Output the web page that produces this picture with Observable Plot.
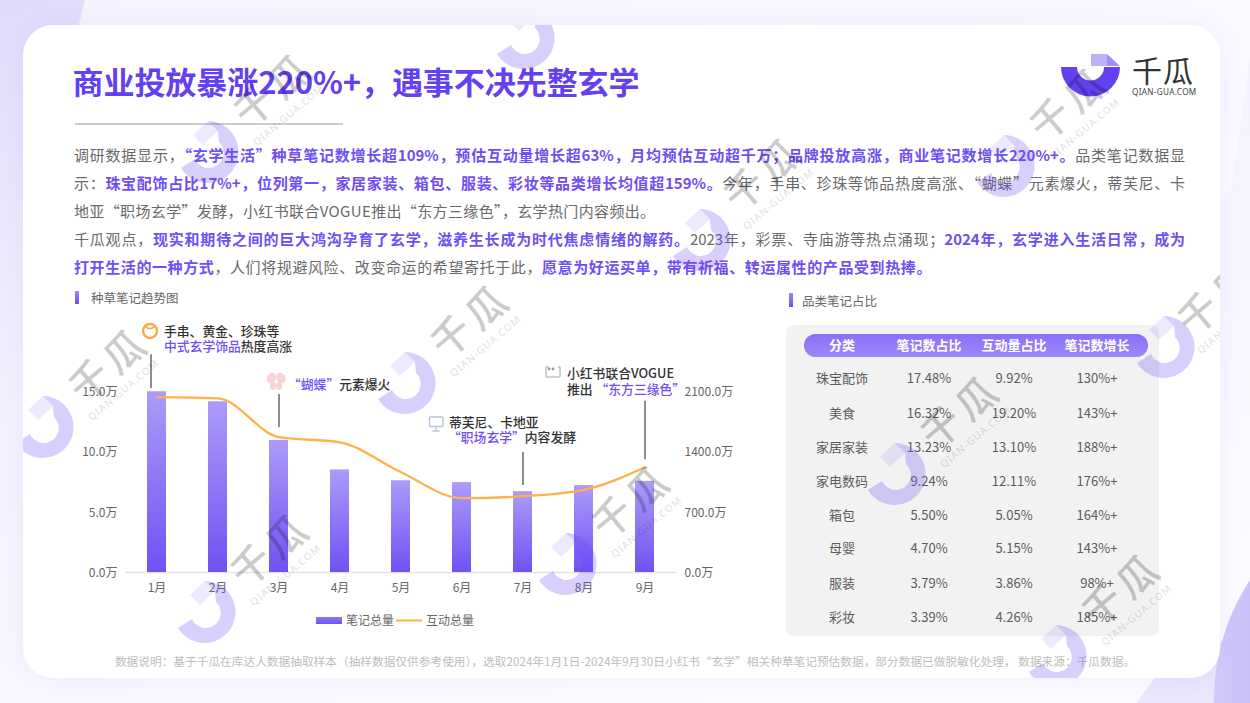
<!DOCTYPE html>
<html lang="zh-CN"><head><meta charset="utf-8">
<script src="https://cdn.jsdelivr.net/npm/d3@7"></script>
<script src="https://cdn.jsdelivr.net/npm/@observablehq/plot@0.6"></script>
<style>
*{box-sizing:border-box}
html,body{margin:0;padding:0;width:1250px;height:703px;overflow:hidden;background:#fff}
body{font-family:"Noto Sans CJK SC","Noto Sans",sans-serif;position:relative}
.abs{position:absolute}
#bg{position:absolute;left:0;top:0;width:1250px;height:703px}
#card{position:absolute;left:23px;top:25px;width:1197px;height:653px;border-radius:30px;background:#fff;box-shadow:0 0 22px rgba(120,100,240,.07)}
#title{left:72.5px;top:58px;font-size:31px;font-weight:700;color:#6340f0;line-height:46px;white-space:nowrap;letter-spacing:-.05px}
#rule{left:75px;top:123px;width:268px;height:1.5px;background:#ccc}
.ln{position:absolute;left:74px;width:1111px;height:28px;font-size:15px;line-height:28px;color:#6a6a6a;white-space:nowrap}
.ln.j{text-align:justify;text-align-last:justify;white-space:normal}
.ln b,.p{color:#6f4ff2;font-weight:700}
.sec{font-size:12.5px;color:#666;line-height:16px;white-space:nowrap}
.mk{width:4px;background:linear-gradient(#9b84f8,#6f4ff2)}
#panel{left:786px;top:325px;width:373px;height:311px;background:#f2f2f2;border-radius:7px}
#pill{left:804px;top:334px;width:344px;height:23px;border-radius:12px;background:linear-gradient(#8a6ff8,#9d88f8)}
.cell{position:absolute;transform:translate(-50%,-50%);font-size:13px;color:#5c5c5c;white-space:nowrap;line-height:16px}
.hd{color:#fff;font-weight:700;font-size:13px}
#chart{left:60px;top:340px}
.note{position:absolute;font-size:12.8px;line-height:14.5px;color:#333;font-weight:500;white-space:nowrap}
.note i{font-style:normal;color:#6f4ff2}
.leg{font-size:12px;color:#666;line-height:16px;white-space:nowrap}
#foot{left:0;width:1250px;top:653px;text-align:center;font-size:11.7px;line-height:16px;color:#bdbdbd;white-space:nowrap}
svg.ov{position:absolute;left:0;top:0;pointer-events:none}
</style></head><body>
<svg id="bg" viewBox="0 0 1250 703">
<defs>
<linearGradient id="pg" x1="0" y1="0" x2="0.55" y2="1"><stop offset="0" stop-color="#e0dbfa"/><stop offset=".45" stop-color="#f3f1fe"/><stop offset="1" stop-color="#fbfaff"/></linearGradient>
<linearGradient id="c1" x1="0" y1="0" x2="1" y2="0"><stop offset="0" stop-color="#d2caf9"/><stop offset=".4" stop-color="#a99cf5"/></linearGradient>
<linearGradient id="c2" x1="0" y1="0" x2="0" y2="1"><stop offset="0" stop-color="#e7e3fd"/><stop offset="1" stop-color="#f3f1fe"/></linearGradient>
</defs>
<rect width="1250" height="703" fill="url(#pg)"/>
<path d="M85 0L1250 0L1250 60L1230 200L70 60Z" fill="#fbfaff" opacity=".75"/>
<ellipse cx="1240" cy="770" rx="120" ry="130" fill="url(#c2)"/>
<circle cx="1432" cy="700" r="218" fill="url(#c1)"/>
</svg>
<div id="card"></div>
<div id="title" class="abs"></div>
<div id="rule" class="abs"></div>
<div id="body"></div>
<div class="abs mk" style="left:75px;top:291px;height:13px"></div>
<div class="abs sec" style="left:91px;top:290px">种草笔记趋势图</div>
<div class="abs mk" style="left:789px;top:293px;height:14px"></div>
<div class="abs sec" style="left:802px;top:293px">品类笔记占比</div>
<div id="panel" class="abs"></div>
<div id="pill" class="abs"></div>
<div id="table"></div>
<div id="chart" class="abs"></div>

<svg class="ov" width="1250" height="703" viewBox="0 0 1250 703">
<defs><linearGradient id="lg" x1="0" y1="0" x2="0" y2="1"><stop offset="0" stop-color="#8d75f7"/><stop offset="1" stop-color="#7252f3"/></linearGradient></defs>
<rect x="316" y="617" width="26" height="7" fill="url(#lg)"/>
<line x1="396" x2="422" y1="620.5" y2="620.5" stroke="#ffb14e" stroke-width="2"/>
<!-- annotation icons -->
<circle cx="150" cy="331" r="7" fill="#fff" stroke="#f6ac4e" stroke-width="2.4"/><path d="M146 327q4 3 8 0" fill="none" stroke="#f6ac4e" stroke-width="1.6"/>
<g fill="#fbd2d6"><ellipse cx="271.5" cy="378" rx="4.5" ry="5.5" transform="rotate(30 271.5 378)"/><ellipse cx="281" cy="378" rx="4.5" ry="5.5" transform="rotate(-30 281 378)"/><ellipse cx="273" cy="386" rx="3" ry="4"/><ellipse cx="279" cy="386" rx="3" ry="4"/></g>
<g fill="none" stroke="#b4c3d8" stroke-width="1.3"><rect x="429.5" y="417" width="13.5" height="9.5" rx="1"/><path d="M436 427v3M432.5 431h7"/></g>
<g fill="none" stroke="#aaa" stroke-width="1.1"><path d="M549 367h-3v9q0 1 1 1h12q1 0 1-1v-9h-2"/></g><g fill="#999"><circle cx="549" cy="369" r="1.4"/><circle cx="553" cy="369" r="1.4"/></g>
<!-- logo -->
<path d="M1061 67A29.5 29.5 0 0 0 1120 67H1104A13.5 13.5 0 0 1 1077 67Z" fill="#6340f0"/>
<path d="M1091 54H1107V66H1091Z" fill="#c0b1f9"/><path d="M1107 54L1120 66H1107Z" fill="#a48df7"/>
</svg>
<div class="abs" style="left:1132px;top:54px;font-size:30px;line-height:30px;font-weight:400;color:#333;letter-spacing:1px;white-space:nowrap">千瓜</div>
<div class="abs" style="left:1132px;top:87px;font-size:8.2px;line-height:10px;color:#444;letter-spacing:.3px;white-space:nowrap;font-family:'Noto Sans',sans-serif">QIAN-GUA.COM</div>

<div class="note" style="left:164px;top:324px">手串、黄金、珍珠等<br><i>中式玄学饰品</i>热度高涨</div>
<div class="note" style="left:288px;top:377px"><i>“蝴蝶”</i>元素爆火</div>
<div class="note" style="left:449px;top:415px">蒂芙尼、卡地亚<br><span style="margin-left:-1px"><i>“职场玄学”</i>内容发酵</span></div>
<div class="note" style="left:567px;top:365px;line-height:16px">小红书联合VOGUE<br>推出 <i>“东方三缘色”</i></div>

<div class="abs leg" style="left:346px;top:612px">笔记总量</div>
<div class="abs leg" style="left:426px;top:612px">互动总量</div>
<div id="foot" class="abs">数据说明：基于千瓜在库达人数据抽取样本（抽样数据仅供参考使用），选取2024年1月1日-2024年9月30日小红书“玄学”相关种草笔记预估数据，部分数据已做脱敏化处理， 数据来源：千瓜数据。</div>
<svg id="wm" class="ov" width="1250" height="703" viewBox="0 0 1250 703"></svg>

<script>
// ---------- data ----------
const months = ["1月","2月","3月","4月","5月","6月","7月","8月","9月"];
const noteTotals = [14.98,14.15,10.95,8.5,7.6,7.45,6.7,7.2,7.55];        // 万
const engagementTotals = [2034,2020,1570,1510,1164,862,885,959,1222];    // 万
const leftTicks = [0,5,10,15];
const rightTickFactor = 140;

const categories = ["珠宝配饰","美食","家居家装","家电数码","箱包","母婴","服装","彩妆"];
const noteShare = ["17.48%","16.32%","13.23%","9.24%","5.50%","4.70%","3.79%","3.39%"];
const engShare = ["9.92%","19.20%","13.10%","12.11%","5.05%","5.15%","3.86%","4.26%"];
const noteGrowth = ["130%+","143%+","188%+","176%+","164%+","143%+","98%+","185%+"];
const tableHead = ["分类","笔记数占比","互动量占比","笔记数增长"];

const titleText = "商业投放暴涨220%+，遇事不决先整玄学";
const bodyLines = [
 ['j',0,'调研数据显示，<b>“玄学生活”种草笔记数增长超109%，预估互动量增长超63%，月均预估互动超千万；品牌投放高涨，商业笔记数增长220%+。</b>品类笔记数据显'],
 ['j',0,'示：<b>珠宝配饰占比17%+，位列第一，家居家装、箱包、服装、彩妆等品类增长均值超159%。</b>今年，手串、珍珠等饰品热度高涨、“蝴蝶”元素爆火，蒂芙尼、卡'],
 ['',0.36,'地亚“职场玄学”发酵，小红书联合VOGUE推出“东方三缘色”，玄学热门内容频出。'],
 ['j',0,'千瓜观点，<b>现实和期待之间的巨大鸿沟孕育了玄学，滋养生长成为时代焦虑情绪的解药。</b>2023年，彩票、寺庙游等热点涌现；<b>2024年，玄学进入生活日常，成为</b>'],
 ['',0.6,'<b>打开生活的一种方式</b>，人们将规避风险、改变命运的希望寄托于此，<b>愿意为好运买单，带有祈福、转运属性的产品受到热捧。</b>']
];
// ---------- text blocks ----------
document.getElementById("title").textContent = titleText;
const bodyEl = document.getElementById("body");
bodyLines.forEach(([c,ls,h],i)=>{const d=document.createElement("div");d.className="ln "+c;d.style.top=(141+i*28)+"px";d.style.letterSpacing=ls+"px";d.innerHTML=h;bodyEl.appendChild(d);});

const colX=[842,929,1014,1097], rowY=[378,412.5,446.5,480.5,514.5,548,583,617];
const tb=document.getElementById("table");
function cell(t,x,y,cls){const d=document.createElement("div");d.className="cell "+(cls||"");d.style.left=x+"px";d.style.top=y+"px";d.textContent=t;tb.appendChild(d);}
tableHead.forEach((t,i)=>cell(t,colX[i],345,"hd"));
categories.forEach((c,i)=>{cell(c,colX[0],rowY[i]);cell(noteShare[i],colX[1],rowY[i]);cell(engShare[i],colX[2],rowY[i]);cell(noteGrowth[i],colX[3],rowY[i]);});

// ---------- chart ----------
const rows = months.map((m,i)=>({month:m,notes:noteTotals[i],eng:engagementTotals[i]/rightTickFactor}));
const callouts = [
 {month:"1月",y1:15.25,y2:18.05,dx:-6},
 {month:"3月",y1:12.0,y2:14.75,dx:0},
 {month:"7月",y1:7.2,y2:9.95,dx:0},
 {month:"9月",y1:9.35,y2:14.2,dx:0}
];
const plot = Plot.plot({
  width:690,height:260,
  marginLeft:65,marginRight:74,marginTop:51,marginBottom:28,
  style:{fontFamily:'"Noto Sans CJK SC","Noto Sans",sans-serif',fontSize:"12px",color:"#666",background:"transparent",overflow:"visible"},
  x:{type:"band",domain:months,padding:0,label:null},
  y:{domain:[0,15],label:null},
  marks:[
    ()=>{const s=d3.create("svg:defs");const g=s.append("linearGradient").attr("id","barG").attr("x1",0).attr("y1",0).attr("x2",0).attr("y2",1);
      g.append("stop").attr("offset",0).attr("stop-color","#ac9bf9");g.append("stop").attr("offset",1).attr("stop-color","#7151f3");return s.node();},
    Plot.ruleY([0],{stroke:"#e3e3e3",strokeWidth:1.5}),
    Plot.barY(rows,{x:"month",y:"notes",fill:"url(#barG)",insetLeft:21,insetRight:21}),
    Plot.line(rows,{x:"month",y:"eng",stroke:"#ffb14e",strokeWidth:2.3,curve:"monotone-x"}),
    Plot.ruleX(callouts.filter(d=>d.dx),{x:"month",y1:"y1",y2:"y2",dx:-6,stroke:"#444",strokeWidth:1.2}),
    Plot.ruleX(callouts.filter(d=>!d.dx),{x:"month",y1:"y1",y2:"y2",stroke:"#444",strokeWidth:1.2}),
    Plot.axisX({tickSize:0,tickPadding:11,label:null,fill:"#666"}),
    Plot.axisY({anchor:"left",ticks:leftTicks,tickSize:0,tickPadding:8,label:null,fill:"#666",dy:.5,tickFormat:d=>d.toFixed(1)+"万"}),
    Plot.axisY({anchor:"right",ticks:leftTicks,tickSize:0,tickPadding:8,label:null,fill:"#666",dy:.5,tickFormat:d=>(d*rightTickFactor).toFixed(1)+"万"})
  ]
});
document.getElementById("chart").appendChild(plot);

// ---------- watermark ----------
const ringCenters=[[524,38],[208,152],[1004,166],[700,240],[1164,347],[405,383],[43,427],[895,474],[566,564],[205,612],[1056,656]];
const markCenters=[[274,90],[764,174],[1070,104],[1218,298],[471,321],[109,365],[961,412],[632,502],[271,550],[1122,590]];
const wm=d3.select("#wm");
wm.append("defs").append("clipPath").attr("id","cardClip").append("rect").attr("x",23).attr("y",25).attr("width",1197).attr("height",653).attr("rx",30);
const wg=wm.append("g").attr("clip-path","url(#cardClip)");
ringCenters.forEach(([x,y])=>{
  const g=wg.append("g").attr("transform",`translate(${x},${y})`);
  g.append("path").attr("d","M0,-31A31,31 0 1 1 -27,16L-13,7A15,15 0 1 0 11,-10L10,-21Z").attr("fill","#6b46f5").attr("opacity",.26);
  g.append("path").attr("d","M-15,-17L0,-31L10,-21L-5,-7Z").attr("fill","#6b46f5").attr("opacity",.12);
});
markCenters.forEach(([x,y])=>{
  const g=wg.append("g").attr("transform",`translate(${x},${y}) rotate(-40)`);
  g.append("text").attr("text-anchor","middle").attr("y",14).attr("font-size",40).attr("font-weight",500).attr("letter-spacing",5).attr("fill","#000").attr("opacity",.2).text("千瓜");
  g.append("text").attr("text-anchor","middle").attr("x",-5).attr("y",32).attr("font-size",10).attr("letter-spacing",1.2).attr("fill","#000").attr("opacity",.13).attr("font-family","'Noto Sans',sans-serif").text("QIAN-GUA.COM");
});
</script>
</body></html>
